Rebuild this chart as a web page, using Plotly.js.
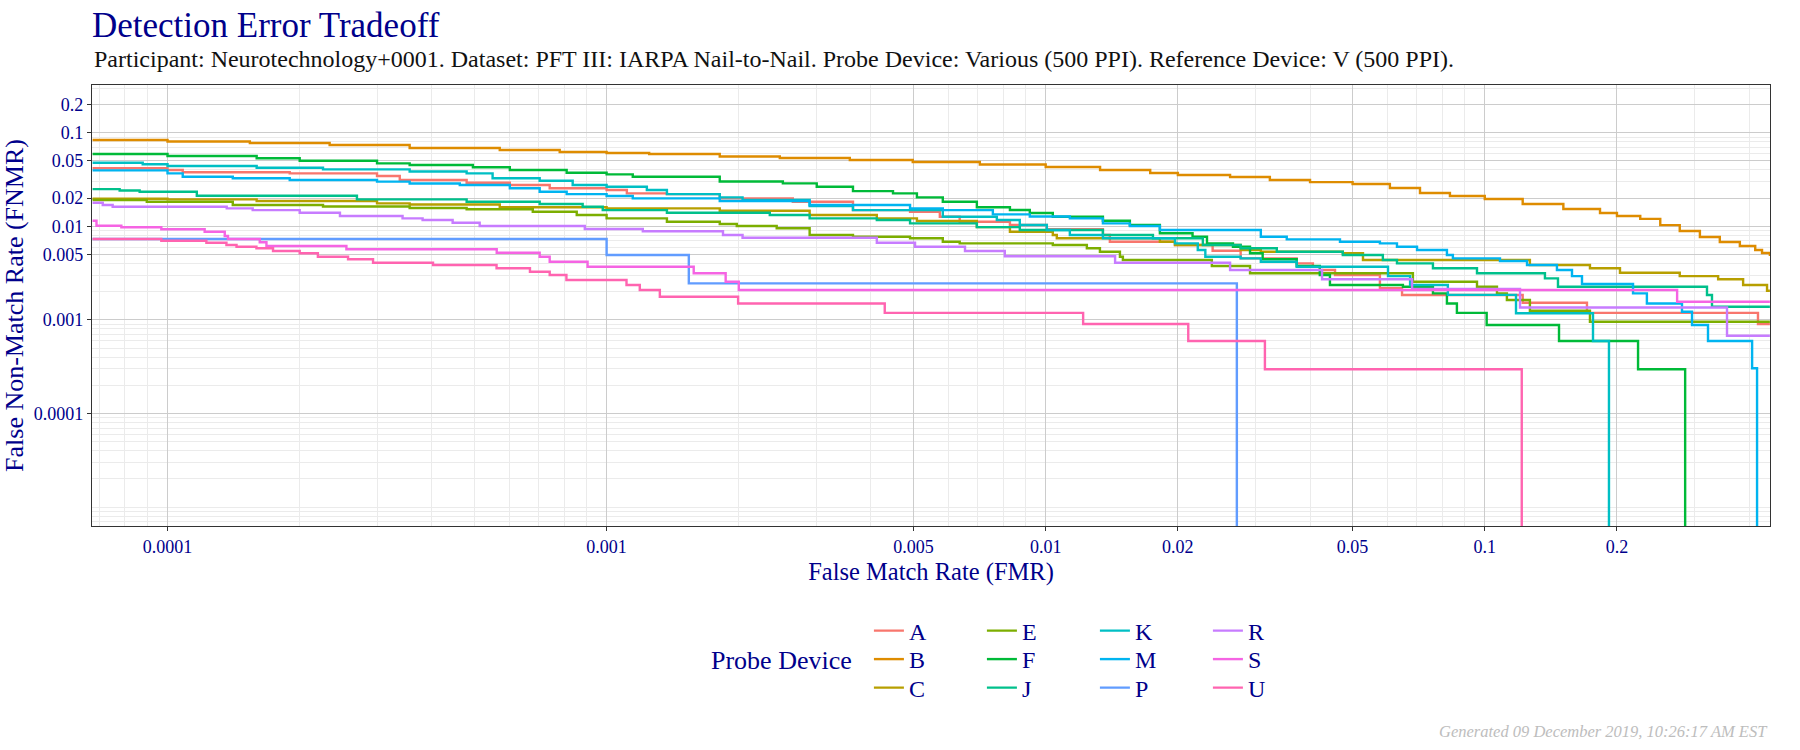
<!DOCTYPE html>
<html>
<head>
<meta charset="utf-8">
<script src="https://cdn.plot.ly/plotly-3.0.1.min.js"></script>
<style>
  html, body { margin: 0; padding: 0; background: #ffffff; }
  #chart { width: 1800px; height: 750px; }
</style>
</head>
<body>
<div id="chart"></div>
<script>
// ---------------- data ----------------
const devices = ['A', 'B', 'C', 'E', 'F', 'J', 'K', 'M', 'P', 'R', 'S', 'U'];
const deviceColors = ['#F8766D', '#DE8C00', '#B79F00', '#7CAE00', '#00BA38', '#00C08B',
                      '#00BFC4', '#00B4F0', '#619CFF', '#C77CFF', '#F564E3', '#FF64B0'];

// FNMR of 1e-6 stands for a curve that falls to zero (off the bottom of the log axis)
const fmrA = [6.75e-5,1e-4,1.083e-4,1.898e-4,3e-4,3.38e-4,4.8e-4,6.02e-4,7.42e-4,1e-3,1.112e-3,1.372e-3,1.81e-3,2.655e-3,3.64e-3,4.91e-3,5.74e-3,6.37e-3,8.29e-3,1.006e-2,1.35e-2,1.4e-2,1.97e-2,2.4e-2,2.78e-2,3.73e-2,4.06e-2,4.21e-2,4.56e-2,5.77e-2,6.48e-2,0.122,0.1709,0.419,0.446];
const fnmrA = [0.0417,0.04,0.0378,0.0368,0.0345,0.0313,0.0292,0.0276,0.0255,0.0244,0.0225,0.0221,0.0199,0.0183,0.0149,0.01432,0.01267,0.0112,0.01032,0.00929,0.00807,0.00685,0.00631,0.00549,0.00455,0.00402,0.0037,0.00341,0.00302,0.002176,0.001845,0.001527,0.00119,0.000904,0.000904];

const fmrB = [6.75e-5,1e-4,1.54e-4,2.34e-4,3.56e-4,5.71e-4,7.82e-4,1e-3,1.25e-3,1.81e-3,2.48e-3,3.58e-3,4.98e-3,7.08e-3,1e-2,1.33e-2,1.73e-2,2e-2,2.63e-2,3.24e-2,4e-2,5e-2,6.08e-2,7.12e-2,8.33e-2,0.1,0.122,0.151,0.183,0.2,0.226,0.251,0.278,0.309,0.343,0.381,0.413,0.428,0.446];
const fnmrB = [0.0835,0.0805,0.0776,0.074,0.0687,0.0654,0.0622,0.0607,0.0593,0.0557,0.0537,0.0511,0.0486,0.0457,0.043,0.04,0.0371,0.0353,0.0336,0.0313,0.0297,0.0283,0.0257,0.0227,0.0211,0.0196,0.0173,0.0153,0.0139,0.0129,0.012,0.0103,0.00891,0.00769,0.0068,0.00616,0.00558,0.00519,0.00482];

const fmrC = [6.75e-5,1e-4,1.596e-4,3e-4,3.56e-4,5.71e-4,1e-3,1.81e-3,2.9e-3,4.125e-3,5.09e-3,6.97e-3,8.29e-3,1.038e-2,1.06e-2,1.82e-2,1.97e-2,2.78e-2,3.09e-2,4.75e-2,5.28e-2,0.1267,0.1736,0.2032,0.278,0.34,0.3876,0.4394,0.446];
const fnmrC = [0.0197,0.0194,0.01864,0.0176,0.0171,0.01596,0.01557,0.01468,0.0132,0.01217,0.0114,0.0098,0.00876,0.00807,0.00745,0.00685,0.00631,0.00558,0.00535,0.00515,0.00437,0.00386,0.00356,0.00319,0.00294,0.00272,0.00236,0.00205,0.00205];

const fmrE = [6.75e-5,8.97e-5,1.408e-4,2.26e-4,3.56e-4,4.8e-4,6.79e-4,8.55e-4,1e-3,1.372e-3,1.81e-3,1.979e-3,2.44e-3,2.9e-3,3.64e-3,4.91e-3,5.83e-3,6.37e-3,1.038e-2,1.241e-2,1.329e-2,1.476e-2,1.499e-2,2.39e-2,2.92e-2,6.86e-2,9.6e-2,0.1066,0.1123,0.1267,0.1736,0.446];
const fnmrE = [0.0191,0.0183,0.01689,0.01628,0.01569,0.0152,0.01432,0.0132,0.01217,0.0112,0.01058,0.01007,0.00952,0.00807,0.00774,0.00745,0.00685,0.00658,0.00631,0.00582,0.00535,0.00473,0.00437,0.00377,0.00315,0.00256,0.00226,0.00192,0.00163,0.001254,0.000957,0.000957];

const fmrF = [6.75e-5,1e-4,1.596e-4,2e-4,3e-4,3.56e-4,4.96e-4,6.02e-4,8.11e-4,1e-3,1.147e-3,1.81e-3,2.52e-3,3.01e-3,3.64e-3,4.49e-3,5.09e-3,5.83e-3,6.97e-3,8.29e-3,9.2e-3,1.038e-2,1.35e-2,1.555e-2,1.82e-2,2.16e-2,2.33e-2,2.67e-2,2.92e-2,3.12e-2,3.73e-2,4.21e-2,4.44e-2,6.51e-2,7.62e-2,8.2e-2,8.64e-2,0.101,0.1476,0.2234,0.286];
const fnmrF = [0.0592,0.0564,0.0533,0.0502,0.0471,0.0452,0.0427,0.04,0.0374,0.0359,0.0339,0.0301,0.0288,0.0265,0.0238,0.0225,0.0204,0.0183,0.01596,0.01493,0.01387,0.01267,0.01148,0.01032,0.00842,0.00774,0.00658,0.00605,0.00515,0.00444,0.00377,0.00302,0.00236,0.00226,0.00192,0.0015,0.00119,0.000882,0.000595,0.000297,1e-6];

const fmrJ = [6.75e-5,7.78e-5,8.64e-5,1.166e-4,2.7e-4,4.8e-4,7.04e-4,8.82e-4,9.8e-4,1.372e-3,2.353e-3,2.9e-3,4.125e-3,4.91e-3,6.97e-3,8.73e-3,1.35e-2,1.755e-2,2.28e-2,2.78e-2,3.36e-2,4.75e-2,5.86e-2,6.31e-2,7.62e-2,9.6e-2,0.1371,0.1468,0.3207,0.3292,0.446];
const fnmrJ = [0.025,0.0241,0.0234,0.0212,0.0194,0.0183,0.0173,0.0162,0.0149,0.01397,0.0132,0.01217,0.01168,0.01076,0.0098,0.00913,0.00807,0.00745,0.00631,0.00582,0.00535,0.00494,0.00437,0.00402,0.00356,0.00315,0.00278,0.00226,0.001845,0.001384,0.001384];

const fmrK = [6.75e-5,8.78e-5,1e-4,1.596e-4,2.26e-4,3.56e-4,4.8e-4,5.5e-4,7.04e-4,8.37e-4,1e-3,1.235e-3,1.372e-3,1.81e-3,2.04e-3,2.9e-3,3.64e-3,5.83e-3,7.74e-3,8.73e-3,1.006e-2,1.135e-2,1.35e-2,1.97e-2,2.22e-2,2.31e-2,2.78e-2,3.09e-2,3.73e-2,6.02e-2,6.76e-2,8.24e-2,0.1178,0.1764,0.1918];
const fnmrK = [0.0478,0.046,0.0441,0.0423,0.0406,0.0385,0.0368,0.0326,0.0307,0.0276,0.0265,0.0244,0.0221,0.0204,0.0191,0.0165,0.0149,0.01267,0.01168,0.01032,0.00913,0.00807,0.00745,0.00658,0.00558,0.00473,0.00455,0.00418,0.0037,0.00294,0.00236,0.00185,0.00118,0.000595,1e-6];

const fmrM = [6.75e-5,1e-4,1.083e-4,1.408e-4,1.898e-4,3e-4,3.56e-4,4.63e-4,6.02e-4,7.04e-4,8.11e-4,1e-3,1.147e-3,1.81e-3,2.9e-3,4.91e-3,5.83e-3,7.58e-3,9.2e-3,1.135e-2,1.35e-2,1.555e-2,1.82e-2,3.09e-2,3.54e-2,4.68e-2,5.77e-2,6.31e-2,7.01e-2,8.2e-2,8.46e-2,0.1083,0.1248,0.146,0.158,0.1665,0.2176,0.234,0.2813,0.2965,0.3224,0.4063,0.417];
const fnmrM = [0.0396,0.0368,0.0339,0.0326,0.0313,0.03,0.0287,0.0276,0.0255,0.0234,0.0221,0.0211,0.0199,0.01864,0.01689,0.01557,0.0149,0.01343,0.01273,0.01217,0.01076,0.01007,0.00913,0.00774,0.00726,0.00685,0.00658,0.00605,0.00558,0.00494,0.00455,0.00426,0.00386,0.00341,0.00294,0.00242,0.00192,0.0015,0.001224,0.000882,0.000595,0.000304,1e-6];

const fmrP = [6.75e-5,1e-3,1.539e-3,2.725e-2];
const fnmrP = [0.00732,0.00494,0.00246,1e-6];

const fmrR = [6.75e-5,7.12e-5,7.5e-5,1.364e-4,1.563e-4,2e-4,2.47e-4,3.43e-4,3.81e-4,4.46e-4,5.14e-4,8.92e-4,1.209e-3,1.841e-3,2.04e-3,4.125e-3,5.04e-3,6.55e-3,8.07e-3,1.439e-2,2.63e-2,4.26e-2,6.83e-2,0.1203,0.3562,0.446];
const fnmrR = [0.01787,0.01689,0.0162,0.01557,0.0149,0.01397,0.01288,0.01217,0.01168,0.01093,0.01007,0.00936,0.00886,0.00807,0.00755,0.00668,0.00605,0.00545,0.00478,0.00408,0.00341,0.00272,0.00214,0.001357,0.000678,0.000678];

const fmrS = [6.75e-5,6.89e-5,7.85e-5,9.68e-5,1.215e-4,1.35e-4,1.373e-4,1.622e-4,1.68e-4,2.555e-4,5.62e-4,7.04e-4,7.42e-4,9.05e-4,1.579e-3,1.867e-3,2e-3,0.2742,0.446];
const fnmrS = [0.01148,0.01015,0.00976,0.00929,0.00876,0.00788,0.00732,0.00675,0.00616,0.00568,0.00522,0.00473,0.00418,0.0037,0.00315,0.00256,0.00209,0.001564,0.001564];

const fmrU = [6.75e-5,9.68e-5,1.226e-4,1.362e-4,1.436e-4,1.594e-4,1.739e-4,2e-4,2.2e-4,2.577e-4,2.938e-4,4.024e-4,5.615e-4,6.69e-4,7.42e-4,8.1e-4,1.11e-3,1.19e-3,1.322e-3,1.993e-3,4.3e-3,1.217e-2,2.112e-2,3.157e-2,0.1214];
const fnmrU = [0.00732,0.00702,0.00668,0.00631,0.00605,0.00582,0.00545,0.00515,0.00473,0.00444,0.00408,0.00386,0.00356,0.00327,0.00302,0.00267,0.00236,0.00209,0.00177,0.0015,0.00119,0.000904,0.000595,0.000297,1e-6];

// axis tick labels
const xTickVals = [0.0001, 0.001, 0.005, 0.01, 0.02, 0.05, 0.1, 0.2];
const xTickText = ['0.0001', '0.001', '0.005', '0.01', '0.02', '0.05', '0.1', '0.2'];
const yTickVals = [0.0001, 0.001, 0.005, 0.01, 0.02, 0.05, 0.1, 0.2];
const yTickText = ['0.0001', '0.001', '0.005', '0.01', '0.02', '0.05', '0.1', '0.2'];

// ---------------- chart ----------------
const seriesX = [fmrA, fmrB, fmrC, fmrE, fmrF, fmrJ, fmrK, fmrM, fmrP, fmrR, fmrS, fmrU];
const seriesY = [fnmrA, fnmrB, fnmrC, fnmrE, fnmrF, fnmrJ, fnmrK, fnmrM, fnmrP, fnmrR, fnmrS, fnmrU];

const SERIF = '"Liberation Serif", "DejaVu Serif", serif';
const BLUE = '#00008B';

function minorVals(majors, lo, hi) {
  const out = [];
  for (let e = lo; e <= hi; e++) {
    for (let k = 1; k <= 9; k++) {
      const v = +(k * Math.pow(10, e)).toPrecision(6);
      if (!majors.some(m => Math.abs(m - v) / v < 1e-6)) out.push(v);
    }
  }
  return out;
}

const legendIds = ['legend', 'legend2', 'legend3'];
const traces = devices.map((d, i) => ({
  type: 'scatter',
  mode: 'lines',
  name: d,
  x: seriesX[i],
  y: seriesY[i],
  line: { color: deviceColors[i], width: 2.4, shape: 'hv' },
  legend: legendIds[i % 3],
  hoverinfo: 'name+x+y'
}));

const legendCommon = {
  orientation: 'h',
  xref: 'paper', yref: 'paper',
  x: 0.4630,
  xanchor: 'left', yanchor: 'middle',
  entrywidth: 68, entrywidthmode: 'pixels',
  font: { family: SERIF, size: 24, color: BLUE },
  bgcolor: 'rgba(0,0,0,0)',
  borderwidth: 0
};

const layout = {
  width: 1800, height: 750,
  paper_bgcolor: '#ffffff',
  plot_bgcolor: '#ffffff',
  margin: { l: 92, r: 30, t: 85, b: 224, pad: 0 },
  title: {
    text: 'Detection Error Tradeoff',
    font: { family: SERIF, size: 35, color: BLUE },
    xref: 'container', x: 92 / 1800, xanchor: 'left',
    yref: 'container', y: 1 - 25 / 750, yanchor: 'middle'
  },
  xaxis: {
    type: 'log',
    range: [-4.172, -0.3504],
    tickmode: 'array', tickvals: xTickVals, ticktext: xTickText,
    ticks: 'outside', ticklen: 4, tickcolor: '#333333', tickwidth: 1,
    tickfont: { family: SERIF, size: 18, color: BLUE },
    showgrid: true, gridcolor: '#cccccc', gridwidth: 1.2,
    minor: { tickmode: 'array', tickvals: minorVals(xTickVals, -5, 0), showgrid: true,
             gridcolor: '#ebebeb', gridwidth: 1, ticks: '' },
    showline: true, linecolor: '#333333', linewidth: 1.2, mirror: true,
    zeroline: false,
    title: { text: 'False Match Rate (FMR)', font: { family: SERIF, size: 24.5, color: BLUE }, standoff: 7 }
  },
  yaxis: {
    type: 'log',
    range: [-5.202, -0.490],
    tickmode: 'array', tickvals: yTickVals, ticktext: yTickText,
    ticks: 'outside', ticklen: 4, tickcolor: '#333333', tickwidth: 1,
    tickfont: { family: SERIF, size: 18, color: BLUE },
    showgrid: true, gridcolor: '#cccccc', gridwidth: 1.2,
    minor: { tickmode: 'array', tickvals: minorVals(yTickVals, -6, 0), showgrid: true,
             gridcolor: '#ebebeb', gridwidth: 1, ticks: '' },
    showline: true, linecolor: '#333333', linewidth: 1.2, mirror: true,
    zeroline: false,
    title: { text: 'False Non-Match Rate (FNMR)', font: { family: SERIF, size: 26, color: BLUE }, standoff: 4 }
  },
  legend: Object.assign({}, legendCommon, { y: (526 - 631) / 441 }),
  legend2: Object.assign({}, legendCommon, { y: (526 - 659.5) / 441 }),
  legend3: Object.assign({}, legendCommon, { y: (526 - 688) / 441 }),
  annotations: [
    {
      text: 'Participant: Neurotechnology+0001. Dataset: PFT III: IARPA Nail-to-Nail. Probe Device: Various (500 PPI). Reference Device: V (500 PPI).',
      xref: 'paper', yref: 'paper', x: 0, y: 1 + (85 - 59) / 441,
      xanchor: 'left', yanchor: 'middle', showarrow: false,
      font: { family: SERIF, size: 24, color: '#111111' }
    },
    {
      text: 'Probe Device',
      xref: 'paper', yref: 'paper', x: (709 - 92) / 1678, y: (526 - 660) / 441,
      xanchor: 'left', yanchor: 'middle', showarrow: false,
      font: { family: SERIF, size: 26, color: BLUE }
    },
    {
      text: '<i>Generated 09 December 2019, 10:26:17 AM EST</i>',
      xref: 'paper', yref: 'paper', x: 1, y: (526 - 731) / 441,
      xanchor: 'right', yanchor: 'middle', showarrow: false,
      font: { family: SERIF, size: 16.5, color: '#bdbdbd' }
    }
  ],
  showlegend: true
};

Plotly.newPlot('chart', traces, layout, { displayModeBar: false, responsive: false });
</script>
</body>
</html>
